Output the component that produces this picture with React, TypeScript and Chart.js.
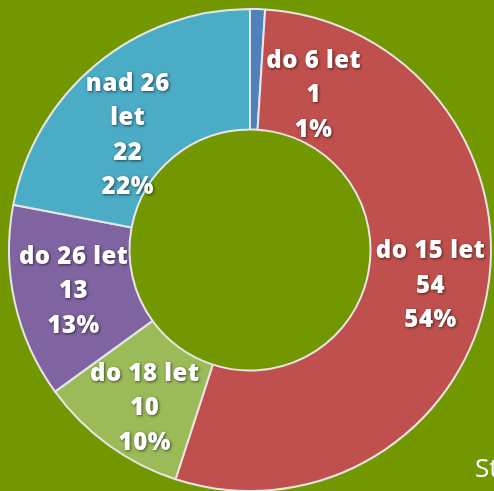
import React, { useEffect, useRef } from "react";
import { Chart, registerables } from "chart.js";

Chart.register(...registerables);

const categories = ["do 6 let", "do 15 let", "do 18 let", "do 26 let", "nad 26 let"];
const labelLines = [["do 6 let"], ["do 15 let"], ["do 18 let"], ["do 26 let"], ["nad 26", "let"]];
const values = [1, 54, 10, 13, 22];
const percents = ["1%", "54%", "10%", "13%", "22%"];
const colors = ["#4f81bd", "#c0504d", "#9bbb59", "#8064a2", "#4bacc6"];
const labelOffsets = [[58, 26], [3, 2], [1, 12], [0, 2], [-7, 25]];

const labelPlugin = {
  id: "sliceLabels",
  afterDatasetsDraw(chart: any) {
    const ctx = chart.ctx;
    const meta = chart.getDatasetMeta(0);
    ctx.save();
    ctx.font = "800 24px 'Open Sans', sans-serif";
    (ctx as any).letterSpacing = "0.5px";
    ctx.fillStyle = "#ffffff";
    ctx.textAlign = "center";
    ctx.textBaseline = "middle";
    ctx.shadowColor = "rgba(0,0,0,0.6)";
    ctx.shadowBlur = 3;
    ctx.shadowOffsetX = 1;
    ctx.shadowOffsetY = 1;
    meta.data.forEach((arc: any, i: number) => {
      const p = arc.getCenterPoint();
      const lines = [...labelLines[i], String(values[i]), percents[i]];
      const lh = 34.5;
      const x = p.x + labelOffsets[i][0];
      const cy = p.y + labelOffsets[i][1];
      const startY = cy - ((lines.length - 1) * lh) / 2;
      lines.forEach((t, k) => ctx.fillText(t, x, startY + k * lh));
    });
    ctx.restore();
  },
};

export default function App() {
  const ref = useRef<HTMLCanvasElement>(null);
  useEffect(() => {
    document.body.style.margin = "0";
    const chart = new Chart(ref.current!, {
      type: "doughnut",
      data: {
        labels: categories,
        datasets: [
          {
            data: values,
            backgroundColor: colors,
            borderColor: "#e6e6e6",
            borderWidth: 2,
          },
        ],
      },
      options: {
        animation: false,
        responsive: false,
        cutout: "50%",
        layout: { padding: { top: 8, bottom: 8, left: 8, right: 8 } },
        plugins: { legend: { display: false }, tooltip: { enabled: false } },
      },
      plugins: [labelPlugin],
    });
    return () => chart.destroy();
  }, []);
  return (
    <div
      style={{
        position: "relative",
        width: 494,
        height: 491,
        overflow: "hidden",
        background: "#739700",
      }}
    >
      <canvas ref={ref} width={500} height={500} style={{ position: "absolute", left: 0, top: 0 }} />
      <div
        style={{
          position: "absolute",
          left: 475,
          top: 449,
          color: "#ffffff",
          font: "26px 'Open Sans', sans-serif",
          whiteSpace: "nowrap",
        }}
      >
        Struktura
      </div>
    </div>
  );
}
